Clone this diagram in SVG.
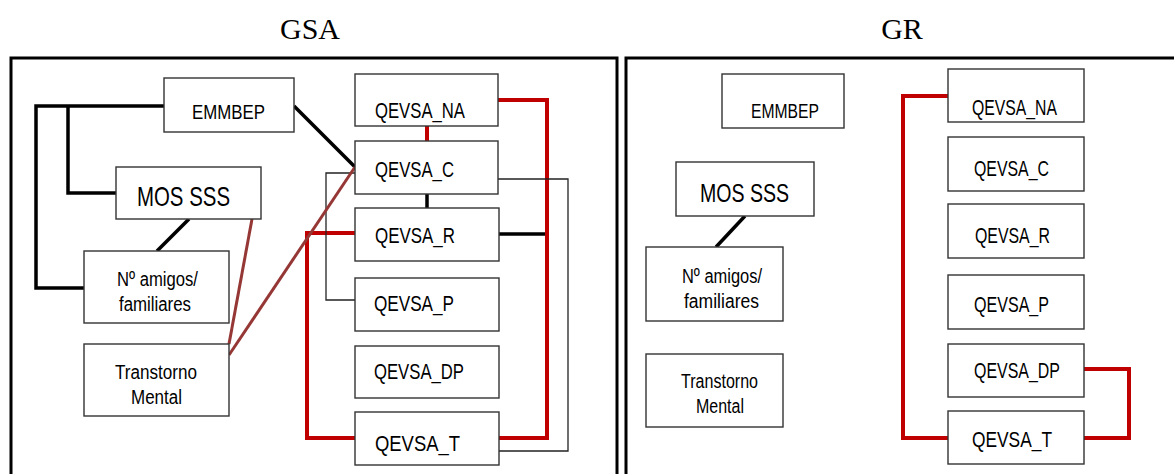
<svg xmlns="http://www.w3.org/2000/svg" width="1174" height="474" viewBox="0 0 1174 474">
<style>
.panel{fill:none;stroke:#000;stroke-width:3}
.box{fill:#fff;stroke:#333;stroke-width:1.4}
.t{font-family:"Liberation Sans",Arial,sans-serif;fill:#000}
.title{font-family:"Liberation Serif","Times New Roman",serif;font-size:30px;fill:#000;text-anchor:middle}
.blk{fill:none;stroke:#000;stroke-width:3.5}
.red{fill:none;stroke:#c00000;stroke-width:4}
.brn{fill:none;stroke:#953735;stroke-width:3}
.thin{fill:none;stroke:#222;stroke-width:1.3}
</style>
<rect width="1174" height="474" fill="#fff"/>
<text class="title" x="310" y="39">GSA</text>
<text class="title" x="902" y="39">GR</text>
<rect class="panel" x="11" y="58" width="606" height="430"/>
<rect class="panel" x="626" y="58" width="560" height="430"/>

<g id="connectors">
  <path class="blk" d="M164,106 H36 V288 H84"/>
  <path class="blk" d="M68,106 V193 H116"/>
  <path class="blk" d="M189,219 L157,251"/>
  <path class="blk" d="M294,106 L355,167"/>
  <path class="blk" d="M427,194 V208"/>
  <path class="blk" d="M499,234 H545"/>
  <path class="red" d="M427,126 V141"/>
  <path class="red" d="M498,100 H547 V438 H498"/>
  <path class="red" d="M355,233 H307 V438 H355"/>
  <path class="thin" d="M358,173 H326 V300 H357"/>
  <path class="thin" d="M498,179 H568 V451 H498"/>
  <path class="brn" d="M252,219 L229,344"/>
  <path class="brn" d="M355,167 L229,355"/>
  <path class="blk" d="M745,216 L716,247"/>
  <path class="red" d="M948,96 H903 V438 H948"/>
  <path class="red" d="M1084,369 H1129 V438 H1084"/>
</g>

<g id="gsa-emmbep"><rect class="box" x="164" y="78" width="130" height="54"/><text class="t" x="192" y="119" font-size="21" textLength="73" lengthAdjust="spacingAndGlyphs">EMMBEP</text></g>
<g id="gsa-mos"><rect class="box" x="116" y="167" width="145" height="52"/><text class="t" x="137" y="206" font-size="28" textLength="93" lengthAdjust="spacingAndGlyphs">MOS SSS</text></g>
<g id="gsa-amigos"><rect class="box" x="84" y="251" width="145" height="72"/><text class="t" x="117" y="286" font-size="20" textLength="81" lengthAdjust="spacingAndGlyphs">Nº amigos/</text><text class="t" x="119" y="311" font-size="20" textLength="72" lengthAdjust="spacingAndGlyphs">familiares</text></g>
<g id="gsa-transtorno"><rect class="box" x="84" y="344" width="145" height="72"/><text class="t" x="115" y="379" font-size="20" textLength="82" lengthAdjust="spacingAndGlyphs">Transtorno</text><text class="t" x="131" y="404" font-size="20" textLength="51" lengthAdjust="spacingAndGlyphs">Mental</text></g>
<g id="gsa-na"><rect class="box" x="355" y="74" width="143" height="52"/><text class="t" x="375" y="118" font-size="22" textLength="90" lengthAdjust="spacingAndGlyphs">QEVSA_NA</text></g>
<g id="gsa-c"><rect class="box" x="355" y="141" width="143" height="53"/><text class="t" x="375" y="177" font-size="22" textLength="79" lengthAdjust="spacingAndGlyphs">QEVSA_C</text></g>
<g id="gsa-r"><rect class="box" x="355" y="208" width="144" height="53"/><text class="t" x="375" y="243" font-size="22" textLength="80" lengthAdjust="spacingAndGlyphs">QEVSA_R</text></g>
<g id="gsa-p"><rect class="box" x="355" y="278" width="144" height="53"/><text class="t" x="374" y="311" font-size="22" textLength="80" lengthAdjust="spacingAndGlyphs">QEVSA_P</text></g>
<g id="gsa-dp"><rect class="box" x="355" y="346" width="144" height="52"/><text class="t" x="374" y="379" font-size="22" textLength="90" lengthAdjust="spacingAndGlyphs">QEVSA_DP</text></g>
<g id="gsa-t"><rect class="box" x="355" y="412" width="144" height="53"/><text class="t" x="375" y="451" font-size="22" textLength="85" lengthAdjust="spacingAndGlyphs">QEVSA_T</text></g>

<g id="gr-emmbep"><rect class="box" x="722" y="74" width="122" height="54"/><text class="t" x="751" y="118" font-size="20" textLength="68" lengthAdjust="spacingAndGlyphs">EMMBEP</text></g>
<g id="gr-mos"><rect class="box" x="676" y="162" width="138" height="54"/><text class="t" x="700" y="202" font-size="25" textLength="89" lengthAdjust="spacingAndGlyphs">MOS SSS</text></g>
<g id="gr-amigos"><rect class="box" x="646" y="247" width="137" height="74"/><text class="t" x="682" y="283" font-size="20" textLength="80" lengthAdjust="spacingAndGlyphs">Nº amigos/</text><text class="t" x="684" y="308" font-size="20" textLength="75" lengthAdjust="spacingAndGlyphs">familiares</text></g>
<g id="gr-transtorno"><rect class="box" x="646" y="354" width="137" height="73"/><text class="t" x="681" y="388" font-size="20" textLength="77" lengthAdjust="spacingAndGlyphs">Transtorno</text><text class="t" x="696" y="413" font-size="20" textLength="48" lengthAdjust="spacingAndGlyphs">Mental</text></g>
<g id="gr-na"><rect class="box" x="948" y="69" width="136" height="53"/><text class="t" x="972" y="115" font-size="22" textLength="85" lengthAdjust="spacingAndGlyphs">QEVSA_NA</text></g>
<g id="gr-c"><rect class="box" x="948" y="137" width="136" height="54"/><text class="t" x="974" y="176" font-size="22" textLength="75" lengthAdjust="spacingAndGlyphs">QEVSA_C</text></g>
<g id="gr-r"><rect class="box" x="948" y="204" width="136" height="54"/><text class="t" x="975" y="243" font-size="22" textLength="75" lengthAdjust="spacingAndGlyphs">QEVSA_R</text></g>
<g id="gr-p"><rect class="box" x="948" y="275" width="136" height="54"/><text class="t" x="974" y="312" font-size="22" textLength="75" lengthAdjust="spacingAndGlyphs">QEVSA_P</text></g>
<g id="gr-dp"><rect class="box" x="948" y="344" width="136" height="53"/><text class="t" x="974" y="378" font-size="22" textLength="86" lengthAdjust="spacingAndGlyphs">QEVSA_DP</text></g>
<g id="gr-t"><rect class="box" x="948" y="411" width="136" height="53"/><text class="t" x="972" y="447" font-size="22" textLength="80" lengthAdjust="spacingAndGlyphs">QEVSA_T</text></g>
</svg>
